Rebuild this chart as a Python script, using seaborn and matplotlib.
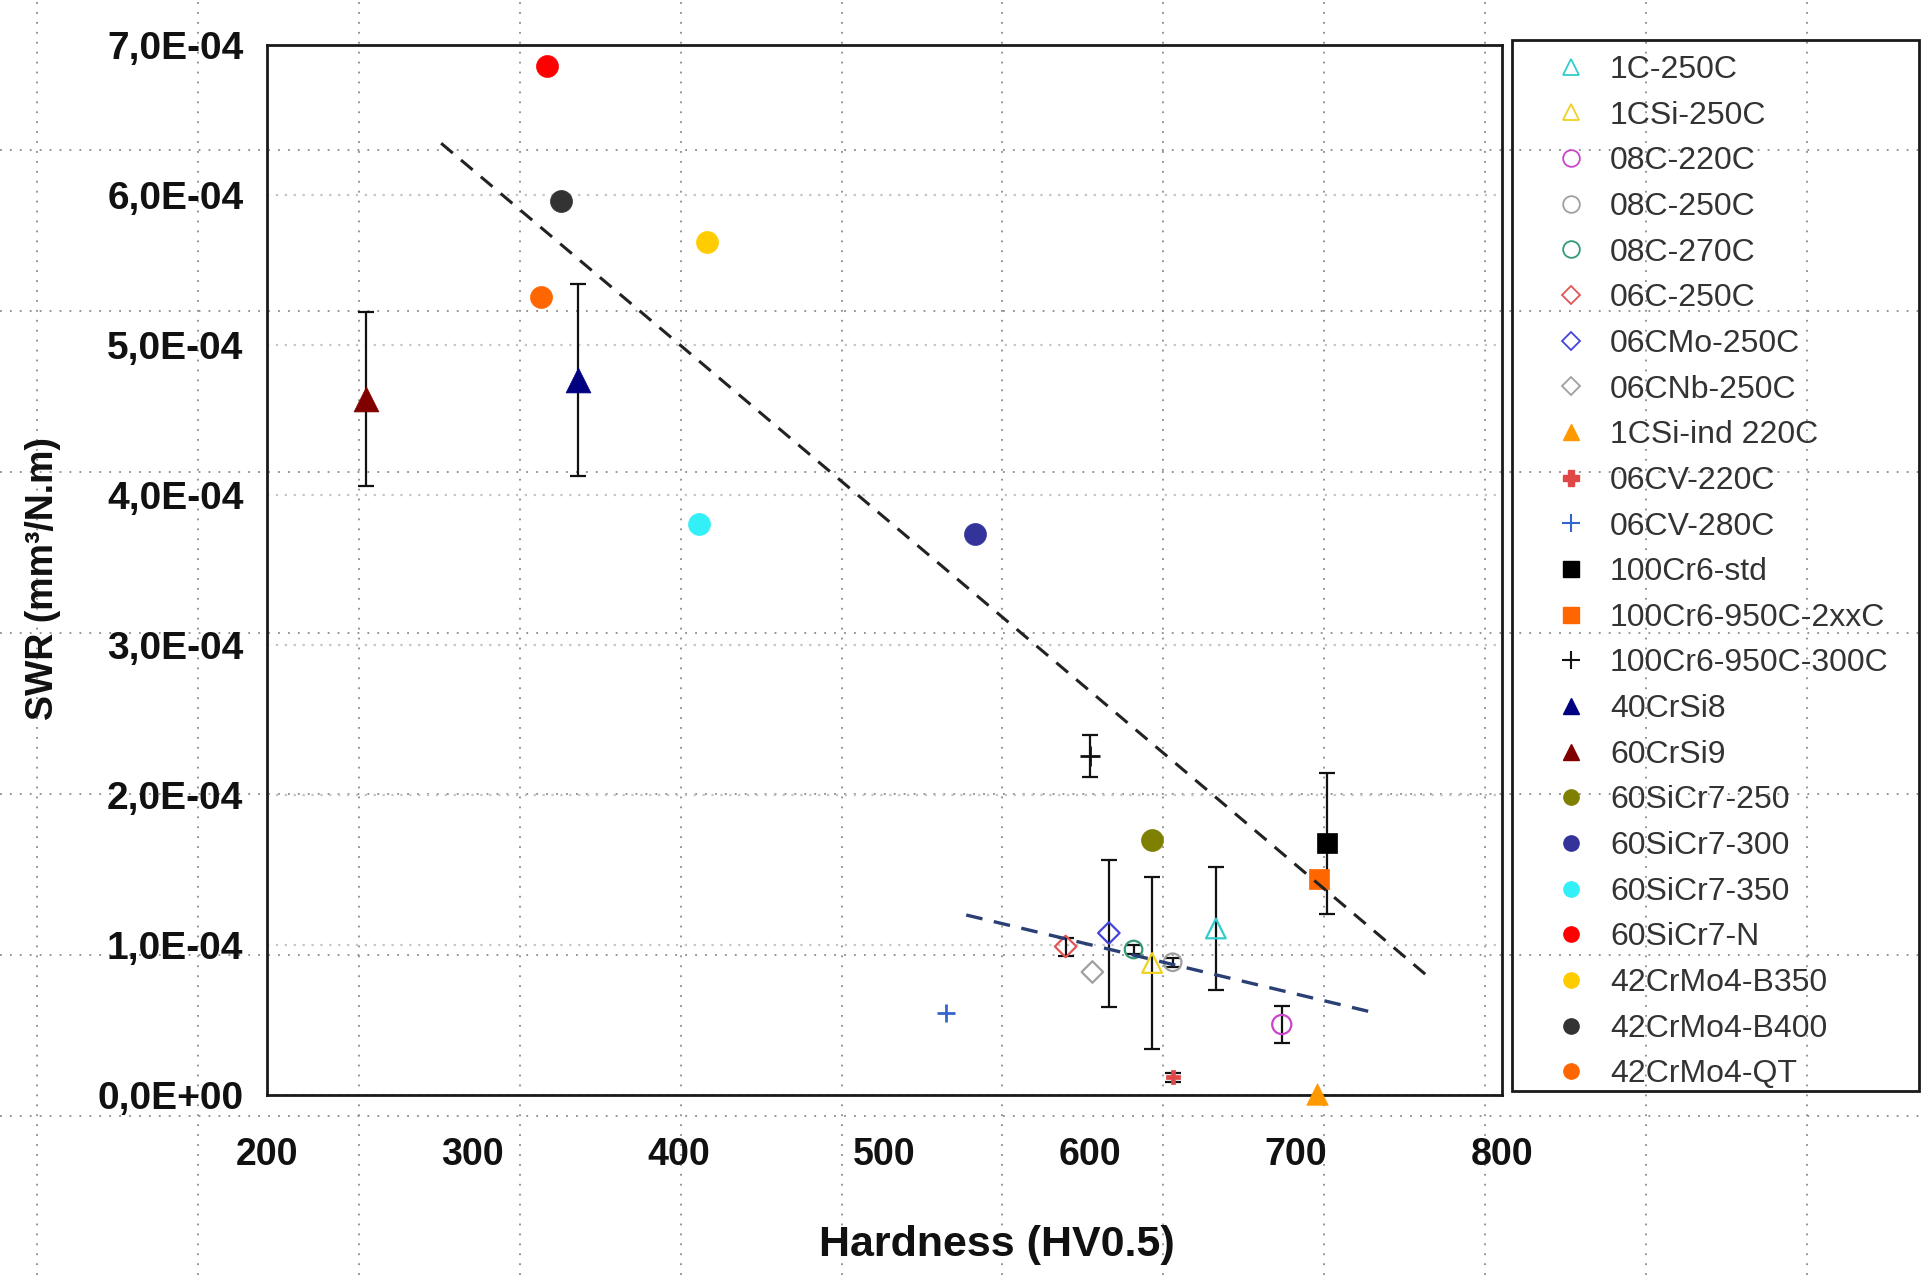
import matplotlib
matplotlib.use("Agg")
import matplotlib.pyplot as plt
from matplotlib.lines import Line2D
from matplotlib.patches import Rectangle
from matplotlib.ticker import FuncFormatter, MultipleLocator
import seaborn as sns
import pandas as pd

# ---------------- data ----------------
names = ["1C-250C", "1CSi-250C", "08C-220C", "08C-250C", "08C-270C", "06C-250C",
         "06CMo-250C", "06CNb-250C", "1CSi-ind 220C", "06CV-220C", "06CV-280C",
         "100Cr6-std", "100Cr6-950C-2xxC", "100Cr6-950C-300C", "40CrSi8", "60CrSi9",
         "60SiCr7-250", "60SiCr7-300", "60SiCr7-350", "60SiCr7-N",
         "42CrMo4-B350", "42CrMo4-B400", "42CrMo4-QT"]
hardness = [661, 630, 693, 640, 621, 588, 609, 601, 710, 640, 530,
            715, 711, 600, 351, 248,
            630, 544, 410, 336,
            414, 343, 333]
swr = [1.11e-4, 0.88e-4, 0.47e-4, 0.885e-4, 0.97e-4, 0.99e-4,
       1.08e-4, 0.82e-4, 0.005e-4, 0.12e-4, 0.55e-4,
       1.68e-4, 1.44e-4, 2.26e-4, 4.77e-4, 4.64e-4,
       1.70e-4, 3.74e-4, 3.81e-4, 6.86e-4,
       5.69e-4, 5.96e-4, 5.32e-4]
swr_err = [0.41e-4, 0.575e-4, 0.125e-4, 0.03e-4, 0.03e-4, 0.06e-4,
           0.49e-4, 0.0, 0.0, 0.03e-4, 0.0,
           0.47e-4, 0.0, 0.14e-4, 0.64e-4, 0.58e-4,
           0.0, 0.0, 0.0, 0.0,
           0.0, 0.0, 0.0]
trend_all_x = [284.6, 764.4]
trend_all_y = [6.345e-4, 0.786e-4]
trend_low_x = [539.7, 740.5]
trend_low_y = [1.20e-4, 0.54e-4]
x_ticks = [200, 300, 400, 500, 600, 700, 800]

# ---------------- styles ----------------
markers = ["^", "^", "o", "o", "o", "D", "D", "D", "^", "P", "+",
           "s", "s", "+", "^", "^", "o", "o", "o", "o", "o", "o", "o"]
filled = [False, False, False, False, False, False, False, False, True, True, False,
          True, True, False, True, True, True, True, True, True, True, True, True]
colors = ["#33CCCC", "#F0D020", "#CC44CC", "#A0A0A0", "#339977", "#E05555",
          "#4444DD", "#A0A0A0", "#FF9900", "#E04848", "#3366CC",
          "#000000", "#FF6600", "#111111", "#000080", "#800000",
          "#808000", "#333399", "#33F0F8", "#FF0000",
          "#FFCC00", "#333333", "#FF6600"]
sizes = [200, 200, 190, 160, 160, 120, 120, 120, 240, 100, 170,
         220, 210, 200, 320, 320, 250, 250, 250, 250, 250, 250, 250]

df = pd.DataFrame({"name": names, "hv": hardness, "swr": swr, "err": swr_err})

sns.set_style("white")
plt.rcParams["font.family"] = ["Liberation Sans", "DejaVu Sans"]

W, H = 1923, 1275
fig = plt.figure(figsize=(W / 100, H / 100), dpi=100)
L, R, T, B = 267, 1502, 45, 1095
ax = fig.add_axes([L / W, 1 - B / H, (R - L) / W, (B - T) / H])
ax.set_facecolor("none")

# page dotted grid (background of the original figure)
for k in range(12):
    xf = (37 + 160.9 * k) / W
    fig.add_artist(Line2D([xf, xf], [0, 1], transform=fig.transFigure,
                          color="#8a8a8a", lw=1.3, ls=(0, (1, 4.5)), zorder=-5))
for k in range(7):
    yf = 1 - (150 + 161 * k) / H
    fig.add_artist(Line2D([0, 1], [yf, yf], transform=fig.transFigure,
                          color="#8a8a8a", lw=1.3, ls=(0, (1, 4.5)), zorder=-5))

# error bars
for i, row in df.iterrows():
    if row["err"] > 0:
        ax.errorbar(row["hv"], row["swr"], yerr=row["err"], fmt="none",
                    ecolor="#111111", elinewidth=1.6, capsize=6, capthick=1.6, zorder=3)

# points
for i, row in df.iterrows():
    sub = df.iloc[[i]]
    m = markers[i]
    if m in ("+",):
        sns.scatterplot(data=sub, x="hv", y="swr", marker=m, s=sizes[i], color=colors[i],
                        linewidth=2.0, ax=ax, zorder=4, legend=False, clip_on=False)
    elif filled[i]:
        sns.scatterplot(data=sub, x="hv", y="swr", marker=m, s=sizes[i], color=colors[i],
                        edgecolor=colors[i], linewidth=0.5, ax=ax, zorder=4, legend=False,
                        clip_on=False)
    else:
        sns.scatterplot(data=sub, x="hv", y="swr", marker=m, s=sizes[i], facecolor="none",
                        edgecolor=colors[i], linewidth=1.6, ax=ax, zorder=4, legend=False,
                        clip_on=False)

# trend lines
sns.lineplot(x=trend_all_x, y=trend_all_y, ax=ax, color="#222222", lw=2.2, zorder=5)
ax.lines[-1].set_linestyle((0, (5, 3.5)))
sns.lineplot(x=trend_low_x, y=trend_low_y, ax=ax, color="#2A3F73", lw=2.4, zorder=5)
ax.lines[-1].set_linestyle((0, (5, 3.5)))

# axes
ax.set_xlim(200, 800)
ax.set_ylim(0, 7e-4)
ax.set_xticks(x_ticks)
ax.yaxis.set_major_locator(MultipleLocator(1e-4))
ax.yaxis.set_major_formatter(FuncFormatter(lambda v, p: f"{v:.1E}".replace(".", ",")))
ax.tick_params(axis="both", direction="in", length=7, width=1.5, color="#222222",
               labelcolor="#111111")
ax.tick_params(axis="x", pad=30, labelsize=27)
ax.tick_params(axis="y", pad=17, labelsize=28)
for lab in ax.get_xticklabels() + ax.get_yticklabels():
    lab.set_fontweight("bold")
ax.yaxis.grid(True, color="#c4c4c4", ls=(0, (1, 3)), lw=1.6)
ax.xaxis.grid(False)
for s in ax.spines.values():
    s.set_visible(True)
    s.set_color("#1a1a1a")
    s.set_linewidth(2.0)

ax.set_xlabel("Hardness (HV0.5)", fontsize=31, fontweight="bold", color="#111111")
ax.xaxis.label.set_va("center")
ax.xaxis.set_label_coords((997 - L) / (R - L), (B - 1245) / (B - T))
ax.set_ylabel("SWR (mm³/N.m)", fontsize=27, fontweight="bold", color="#111111")
ax.yaxis.label.set_va("center")
ax.yaxis.set_label_coords((43 - L) / (R - L), (B - 579) / (B - T))

# legend
handles = []
for i, n in enumerate(names):
    m = markers[i]
    if m == "+":
        h = Line2D([], [], ls="none", marker="+", markersize=13, markeredgewidth=1.5,
                   color=colors[i])
    elif filled[i]:
        h = Line2D([], [], ls="none", marker=m, markersize=11 if m != "D" else 8,
                   color=colors[i], markeredgecolor=colors[i])
    else:
        h = Line2D([], [], ls="none", marker=m, markersize=12 if m != "D" else 9,
                   markerfacecolor="none", markeredgecolor=colors[i], markeredgewidth=1.3)
    handles.append(h)
leg = fig.legend(handles, names, loc="upper left",
                 bbox_to_anchor=(1555 / W, 1 - 55 / H),
                 frameon=False, fontsize=23, handlelength=1.0, handletextpad=0.72,
                 borderpad=0, borderaxespad=0, labelspacing=0.49)
for t in leg.get_texts():
    t.set_color("#333333")
fig.add_artist(Rectangle((1512 / W, 1 - 1091 / H), (1919 - 1512) / W, (1091 - 40) / H,
                         transform=fig.transFigure, fill=False, ec="#1a1a1a", lw=2.0))

fig.savefig("out.png", dpi=100, facecolor="white")
